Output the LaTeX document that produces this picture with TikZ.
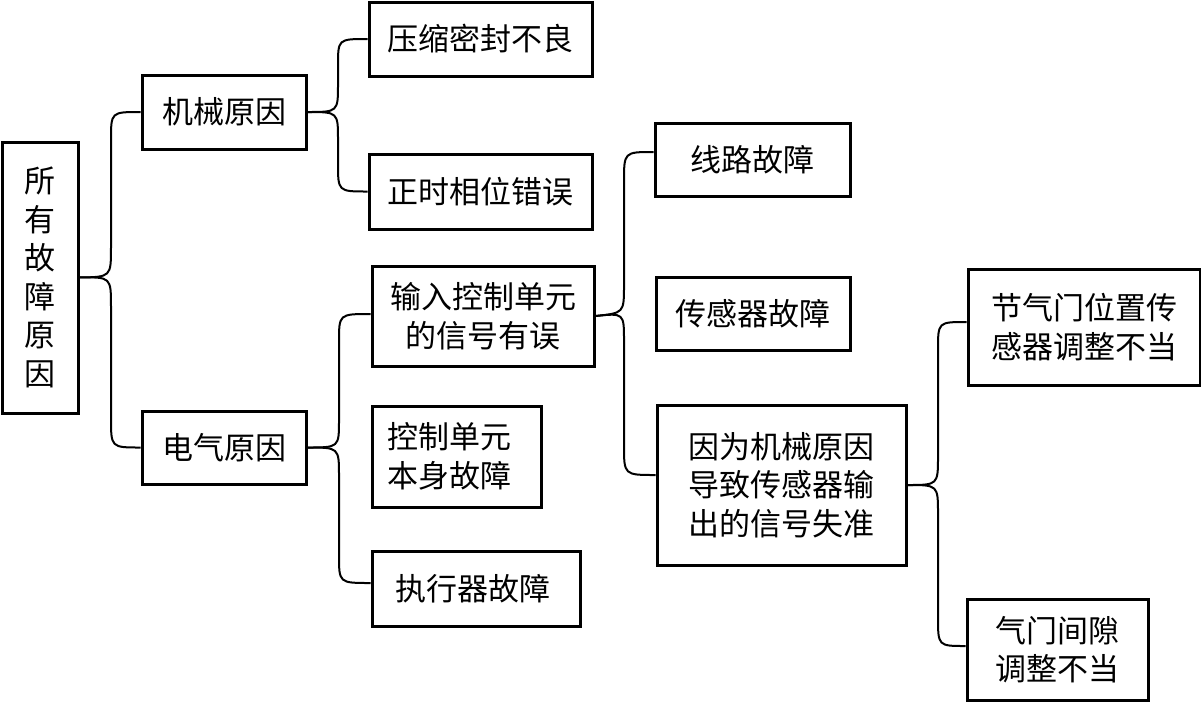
\documentclass[tikz,border=0pt]{standalone}
\usepackage{fontspec}
\newfontfamily\song{Noto Sans CJK SC}
\usetikzlibrary{calc}
\begin{document}
\begin{tikzpicture}[x=1pt,y=-1pt,
  box/.style={draw,line width=3pt,inner sep=0pt,align=center,
    font=\song\fontsize{31}{38.5}\selectfont},
  conn/.style={line width=2pt}]
\useasboundingbox (0,0) rectangle (1201,702);
% nodes
\node[box,minimum width=76,minimum height=271] (root) at (40,277.5) {所\\有\\故\\障\\原\\因};
\node[box,minimum width=164,minimum height=74] (mech) at (224,112) {机械原因};
\node[box,minimum width=164,minimum height=73] (elec) at (224,447.5) {电气原因};
\node[box,minimum width=223,minimum height=74] (ya) at (480.5,39) {压缩密封不良};
\node[box,minimum width=223,minimum height=75] (zs) at (480.5,191.5) {正时相位错误};
\node[box,minimum width=222,minimum height=100] (sr) at (483,316) {输入控制单元\\的信号有误};
\node[box,minimum width=169,minimum height=101] (kz) at (456.5,456.5) {控制单元\hspace*{14pt}\\本身故障\hspace*{14pt}};
\node[box,minimum width=208,minimum height=75] (zx) at (476,588.5) {执行器故障\hspace*{6pt}};
\node[box,minimum width=195,minimum height=73] (xl) at (752.5,159.5) {线路故障};
\node[box,minimum width=194,minimum height=73] (cg) at (753,313.5) {传感器故障};
\node[box,minimum width=249,minimum height=160] (yw) at (781.5,485) {因为机械原因\\导致传感器输\\出的信号失准};
\node[box,minimum width=232,minimum height=116] (jq) at (1084,327) {节气门位置传\\感器调整不当};
\node[box,minimum width=181,minimum height=101] (qm) at (1057.5,649.5) {气门间隙\\调整不当};
% connectors
\draw[conn] (root.east) .. controls (111,277) .. (111,247) -- (111,140) .. controls (111,112) .. (mech.west);
\draw[conn] (root.east) .. controls (111,277) .. (111,307) -- (111,418) .. controls (111,447.5) .. (elec.west);
\draw[conn] (mech.east) .. controls (338,112) .. (338,84) -- (338,66) .. controls (338,39) .. (ya.west);
\draw[conn] (mech.east) .. controls (338,112) .. (338,140) -- (338,163) .. controls (338,191.5) .. (zs.west);
\draw[conn] (elec.east) .. controls (339,447.5) .. (339,420) -- (339,342) .. controls (339,314) .. ($(sr.west)+(0,-2)$);
\draw[conn] (elec.east) .. controls (339,447.5) .. (339,476) -- (339,555) .. controls (339,583) .. ($(zx.west)+(0,-5.5)$);
\draw[conn] (sr.east) .. controls (624,313) .. (624,285) -- (624,182) .. controls (624,152) .. ($(xl.west)+(0,-7.5)$);
\draw[conn] (sr.east) .. controls (624,313) .. (624,341) -- (624,445) .. controls (624,475) .. ($(yw.west)+(0,-10)$);
\draw[conn] (yw.east) .. controls (938,485) .. (938,456) -- (938,350) .. controls (938,322) .. ($(jq.west)+(0,-5)$);
\draw[conn] (yw.east) .. controls (938,485) .. (938,514) -- (938,617) .. controls (938,646) .. ($(qm.west)+(0,-3.5)$);
\end{tikzpicture}
\end{document}
